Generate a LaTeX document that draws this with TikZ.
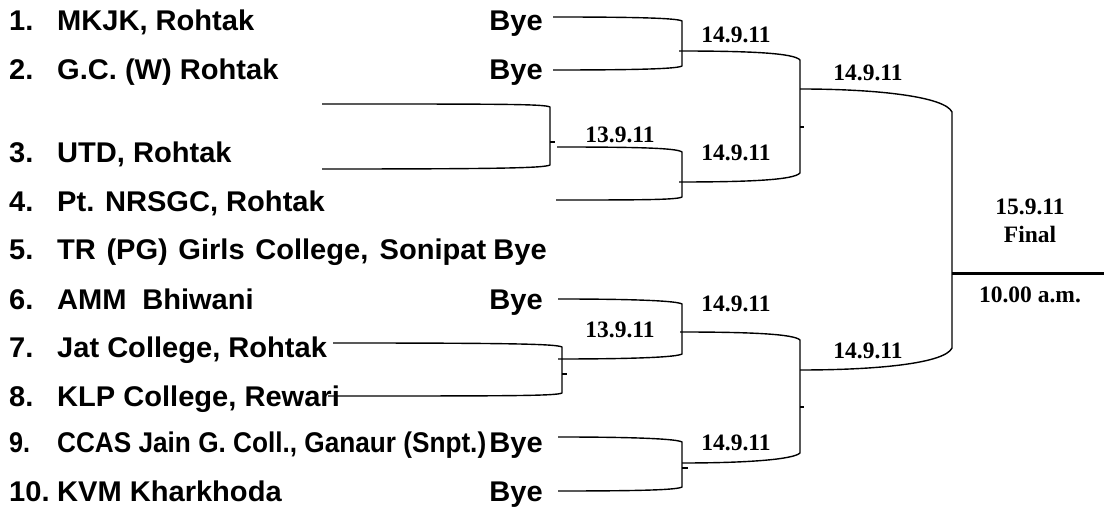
\documentclass[tikz,border=0pt]{standalone}
\usepackage{fontspec}
\usepackage{graphicx}
\setmainfont{Liberation Serif}
\newfontfamily\arialfont[FakeStretch=1.02]{Liberation Sans}
\begin{document}
\begin{tikzpicture}[x=1pt,y=-1pt,
  team/.style={font={\arialfont\bfseries\fontsize{28.5}{30}\selectfont}, inner sep=0pt, anchor=base west},
  byetxt/.style={team, anchor=base east},
  date/.style={font={\bfseries\fontsize{23.5}{25}\selectfont}, inner sep=0pt, anchor=base},
  wire/.style={line width=1.4pt, line join=round},
  finalwire/.style={line width=3pt}]
\useasboundingbox (0,0) rectangle (1104,510);

% ---------- team names ----------
\node[team] (n1) at (9,31) {1.};
\node[team] (t1) at (57,31) {MKJK, Rohtak};
\node[byetxt] (b1) at (543,31) {Bye};
\node[team] (n2) at (9,80) {2.};
\node[team] (t2) at (57,80) {G.C. (W) Rohtak};
\node[byetxt] (b2) at (543,80) {Bye};
\node[team] (n3) at (9,163) {3.};
\node[team] (t3) at (57,163) {UTD, Rohtak};
\node[team] (n4) at (9,212) {4.};
\node[team] (t4) at (57,212) {Pt. NRSGC, Rohtak};
\node[team] (n5) at (9,260) {5.};
\node[team] (t5) at (57,260) {\makebox[429pt][s]{TR (PG) Girls College, Sonipat}};
\node[byetxt] (b5) at (547,260) {Bye};
\node[team] (n6) at (9,310) {6.};
\node[team] (t6) at (57,310) {AMM\hspace{0.55em}Bhiwani};
\node[byetxt] (b6) at (543,310) {Bye};
\node[team] (n7) at (9,358) {7.};
\node[team] (t7) at (57,358) {Jat College, Rohtak};
\node[team] (n8) at (9,407) {8.};
\node[team] (t8) at (57,407) {KLP College, Rewari};
\node[team] (n9) at (9,453) {\resizebox{21pt}{\height}{9.}};
\node[team] (t9) at (57,453) {\resizebox{429pt}{\height}{CCAS Jain G. Coll., Ganaur (Snpt.)}};
\node[byetxt] (b9) at (543,453) {Bye};
\node[team] (n10) at (9,502) {10.};
\node[team] (t10) at (57,502) {KVM Kharkhoda};
\node[byetxt] (b10) at (543,502) {Bye};

% ---------- date labels ----------
\node[date] (dA) at (736,43) {14.9.11};
\node[date] (dB) at (620,143) {13.9.11};
\node[date] (dC) at (736,161) {14.9.11};
\node[date] (dR1) at (868,81) {14.9.11};
\node[date] (dF1) at (1030,215) {15.9.11};
\node[date] (dF2) at (1030,243) {Final};
\node[date] (dF3) at (1030,303) {10.00 a.m.};
\node[date] (dE) at (736,312) {14.9.11};
\node[date] (dD) at (620,338) {13.9.11};
\node[date] (dR2) at (868,359) {14.9.11};
\node[date] (dG) at (736,451) {14.9.11};

% ---------- coordinates ----------
\coordinate (r1) at (553,17);
\coordinate (r2) at (553,70);
\coordinate (Av1) at (682,21);
\coordinate (Av2) at (682,66);
\coordinate (Ao) at (679,51);
\coordinate (R1t) at (800,60);
\coordinate (R1b) at (800,173);
\coordinate (R1m) at (800,127);
\coordinate (Co) at (679,182);
\coordinate (Bt) at (322,104);
\coordinate (Bb) at (322,169);
\coordinate (Bv1) at (550,107);
\coordinate (Bv2) at (550,165);
\coordinate (Bm) at (550,142);
\coordinate (Bo) at (557,147);
\coordinate (Cv1) at (682,152);
\coordinate (Cv2) at (682,197);
\coordinate (r4) at (556,200);
\coordinate (R1o) at (800,89);
\coordinate (Fv1) at (952,112);
\coordinate (Fv2) at (952,348);
\coordinate (R2o) at (800,370);
\coordinate (Fm) at (952,274);
\coordinate (Fend) at (1104,274);
\coordinate (r6) at (558,299);
\coordinate (Ev1) at (682,304);
\coordinate (Ev2) at (682,354);
\coordinate (Do) at (558,359);
\coordinate (Eo) at (680,332);
\coordinate (R2t) at (800,340);
\coordinate (R2b) at (800,453);
\coordinate (R2m) at (800,407);
\coordinate (Go) at (682,463);
\coordinate (r9) at (558,437);
\coordinate (Gv1) at (682,442);
\coordinate (Gv2) at (682,487);
\coordinate (r10) at (558,491);
\coordinate (Gm) at (682,468);
\coordinate (r7) at (333,343);
\coordinate (r8) at (328,396);
\coordinate (Dv1) at (562,347);
\coordinate (Dv2) at (562,393);
\coordinate (Dm) at (562,374);

% ---------- brackets ----------
\draw[wire] (r1) .. controls +(80,0) and +(-5,-3) .. (Av1) -- (Av2) .. controls +(-5,3) and +(80,0) .. (r2);
\draw[wire] (Ao) .. controls +(70,0) and +(-6,-7) .. (R1t) -- (R1b) .. controls +(-6,7) and +(70,0) .. (Co);
\draw[wire] (R1m) -- ++(4,0);
\draw[wire] (Bt) .. controls +(180,0) and +(-6,-3) .. (Bv1) -- (Bv2) .. controls +(-6,3) and +(180,0) .. (Bb);
\draw[wire] (Bm) -- ++(5,0);
\draw[wire] (Bo) .. controls +(80,0) and +(-5,-4) .. (Cv1) -- (Cv2) .. controls +(-5,3) and +(80,0) .. (r4);
\draw[wire] (R1o) .. controls +(80,0) and +(-7,-15) .. (Fv1) -- (Fv2) .. controls +(-7,15) and +(80,0) .. (R2o);
\draw[finalwire] (Fm) -- (Fend);
\draw[wire] (r6) .. controls +(80,0) and +(-5,-3) .. (Ev1) -- (Ev2) .. controls +(-5,3) and +(80,0) .. (Do);
\draw[wire] (Eo) .. controls +(70,0) and +(-6,-6) .. (R2t) -- (R2b) .. controls +(-6,6) and +(70,0) .. (Go);
\draw[wire] (R2m) -- ++(4,0);
\draw[wire] (r9) .. controls +(80,0) and +(-5,-3) .. (Gv1) -- (Gv2) .. controls +(-5,3) and +(80,0) .. (r10);
\draw[wire] (Gm) -- ++(6,0);
\draw[wire] (r7) .. controls +(180,0) and +(-6,-3) .. (Dv1) -- (Dv2) .. controls +(-6,3) and +(180,0) .. (r8);
\draw[wire] (Dm) -- ++(5,0);
\end{tikzpicture}
\end{document}
